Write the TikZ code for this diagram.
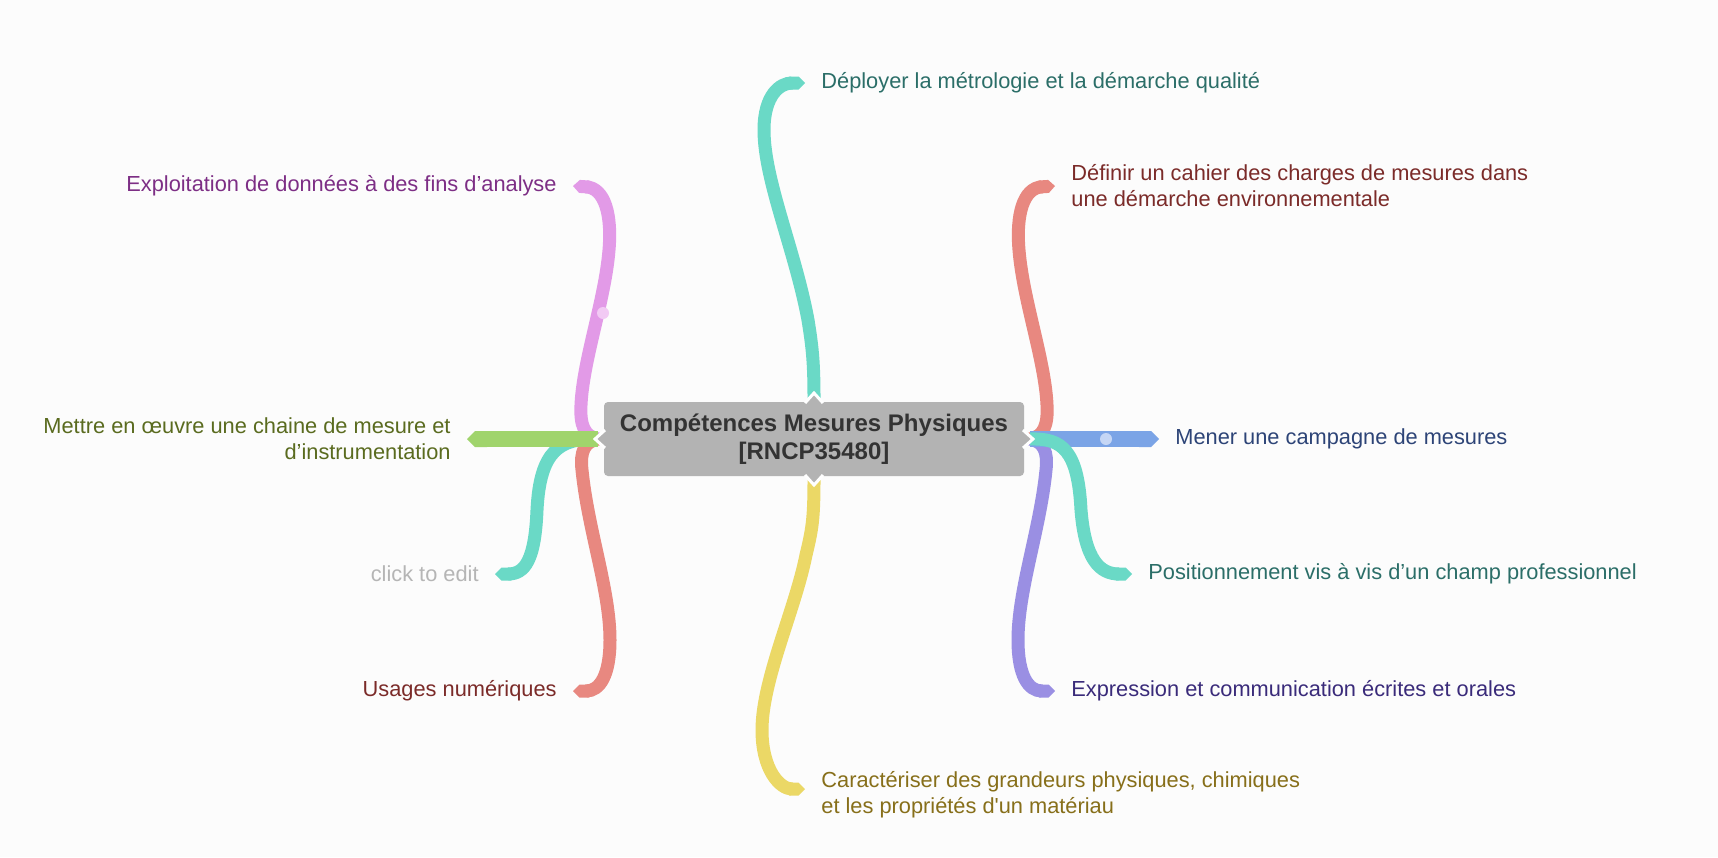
\documentclass[tikz,border=0pt]{standalone}
\usepackage{fontspec}
\setmainfont{Liberation Sans}[Ligatures=TeXOff]
\usetikzlibrary{arrows.meta}
\definecolor{bg}{HTML}{FCFCFC}
\definecolor{cteal}{HTML}{6AD9C6}
\definecolor{cpink}{HTML}{E29AE7}
\definecolor{cgreen}{HTML}{A0D46C}
\definecolor{cred}{HTML}{E88880}
\definecolor{cblue}{HTML}{7BA4E6}
\definecolor{cpurple}{HTML}{9A8FE3}
\definecolor{cyellow}{HTML}{EBD866}
\definecolor{boxgray}{HTML}{B3B3B3}
\definecolor{tteal}{HTML}{2B6E68}
\definecolor{tpink}{HTML}{7D2E85}
\definecolor{tgreen}{HTML}{5A6B1F}
\definecolor{tred}{HTML}{7B2B29}
\definecolor{tblue}{HTML}{2D4477}
\definecolor{tpurple}{HTML}{3A2B7A}
\definecolor{tyellow}{HTML}{876F1A}
\definecolor{tgray}{HTML}{B5B5B5}
\definecolor{dpink}{HTML}{F2CAF4}
\definecolor{dblue}{HTML}{C5D6F5}
\begin{document}
\begin{tikzpicture}[x=0.5pt,y=-0.5pt,
  branch/.style={line width=6.5pt, -{Triangle Cap}},
  straightbranch/.style={line width=8pt, -{Triangle Cap}},
  lbl/.style={font=\fontsize{10.9}{13}\selectfont, inner sep=0pt},
  centerbox/.style={fill=boxgray, rounded corners=2pt, minimum width=210pt, minimum height=37pt, inner sep=0pt, align=center, text=black!80, font=\fontsize{12}{14}\selectfont\bfseries},
  tent/.style={fill=boxgray, draw=white, line width=1.5pt, line join=miter}
]
\fill[bg] (0,0) rectangle (1718,857);
\useasboundingbox (0,0) rectangle (1718,857);

% tent points of the central box
\coordinate (cT) at (814,398);
\coordinate (cB) at (814,480);
\coordinate (cL) at (598,439);
\coordinate (cR) at (1030,439);

% labels
\node[lbl, anchor=west, text=tteal] (ltop) at (821,83) {Déployer la métrologie et la démarche qualité};
\node[lbl, anchor=east, text=tpink] (lpink) at (557,186) {Exploitation de données à des fins d’analyse};
\node[lbl, anchor=east, text=tgreen, align=right] (lgreen) at (451,439) {Mettre en œuvre une chaine de mesure et\\d’instrumentation};
\node[lbl, anchor=east, text=tgray] (lclick) at (479,574) {click to edit};
\node[lbl, anchor=east, text=tred] (lusage) at (557,691) {Usages numériques};
\node[lbl, anchor=west, text=tred, align=left] (ldef) at (1071,186) {Définir un cahier des charges de mesures dans\\une démarche environnementale};
\node[lbl, anchor=west, text=tblue] (lmener) at (1175,439) {Mener une campagne de mesures};
\node[lbl, anchor=west, text=tteal] (lpos) at (1148,574) {Positionnement vis à vis d’un champ professionnel};
\node[lbl, anchor=west, text=tpurple] (lexpr) at (1071,691) {Expression et communication écrites et orales};
\node[lbl, anchor=west, text=tyellow, align=left] (lcar) at (821,795) {Caractériser des grandeurs physiques, chimiques\\et les propriétés d'un matériau};

% left branches
\draw[branch, cpink] (cL) .. controls (584,436) and (580,425) .. (581,405)
  .. controls (583,360) and (605,300) .. (609,250)
  .. controls (612,215) and (605,188) .. ([xshift=8pt]lpink.east);
\fill[dpink] (603,313) circle (6);
\draw[branch, cred] (cL) .. controls (584,442) and (580,452) .. (582,470)
  .. controls (588,530) and (610,590) .. (610,640)
  .. controls (610,675) and (600,691) .. ([xshift=8pt]lusage.east);
\draw[branch, cteal] (cL) .. controls (560,438) and (540,450) .. (537,510)
  .. controls (535,560) and (525,574) .. ([xshift=8pt]lclick.east);
\draw[straightbranch, cgreen] (cL) -- ([xshift=8pt]lgreen.east);

% right branches
\draw[branch, cred] (cR) .. controls (1044,436) and (1048,425) .. (1047,405)
  .. controls (1045,360) and (1023,300) .. (1019,250)
  .. controls (1016,215) and (1023,188) .. ([xshift=-8pt]ldef.west);
\draw[branch, cpurple] (cR) .. controls (1044,442) and (1048,452) .. (1046,470)
  .. controls (1040,530) and (1018,590) .. (1018,640)
  .. controls (1018,675) and (1028,691) .. ([xshift=-8pt]lexpr.west);
\draw[straightbranch, cblue] (cR) -- ([xshift=-8pt]lmener.west);
\fill[dblue] (1106,439) circle (6);
\draw[branch, cteal] (cR) .. controls (1062,438) and (1078,450) .. (1081,510)
  .. controls (1085,560) and (1100,574) .. ([xshift=-8pt]lpos.west);

% top and bottom branches
\draw[branch, cteal] (cT) .. controls (814,360) and (812,345) .. (808,320)
  .. controls (795,250) and (764,180) .. (764,130)
  .. controls (764,95) and (780,83) .. ([xshift=-8pt]ltop.west);
\draw[branch, cyellow] (cB) .. controls (814,520) and (812,530) .. (806,555)
  .. controls (795,610) and (762,680) .. (762,730)
  .. controls (762,770) and (780,789) .. ([xshift=-8pt,yshift=3pt]lcar.west);

% central box
\node[centerbox] (c) at (814,439) {Compétences Mesures Physiques\\{[RNCP35480]}};
\filldraw[tent] (805,403) -- (814,393) -- (823,403);
\filldraw[tent] (805,475) -- (814,485) -- (823,475);
\filldraw[tent] (605,430) -- (595,439) -- (605,448);
\filldraw[tent] (1023,430) -- (1033,439) -- (1023,448);
\end{tikzpicture}
\end{document}
